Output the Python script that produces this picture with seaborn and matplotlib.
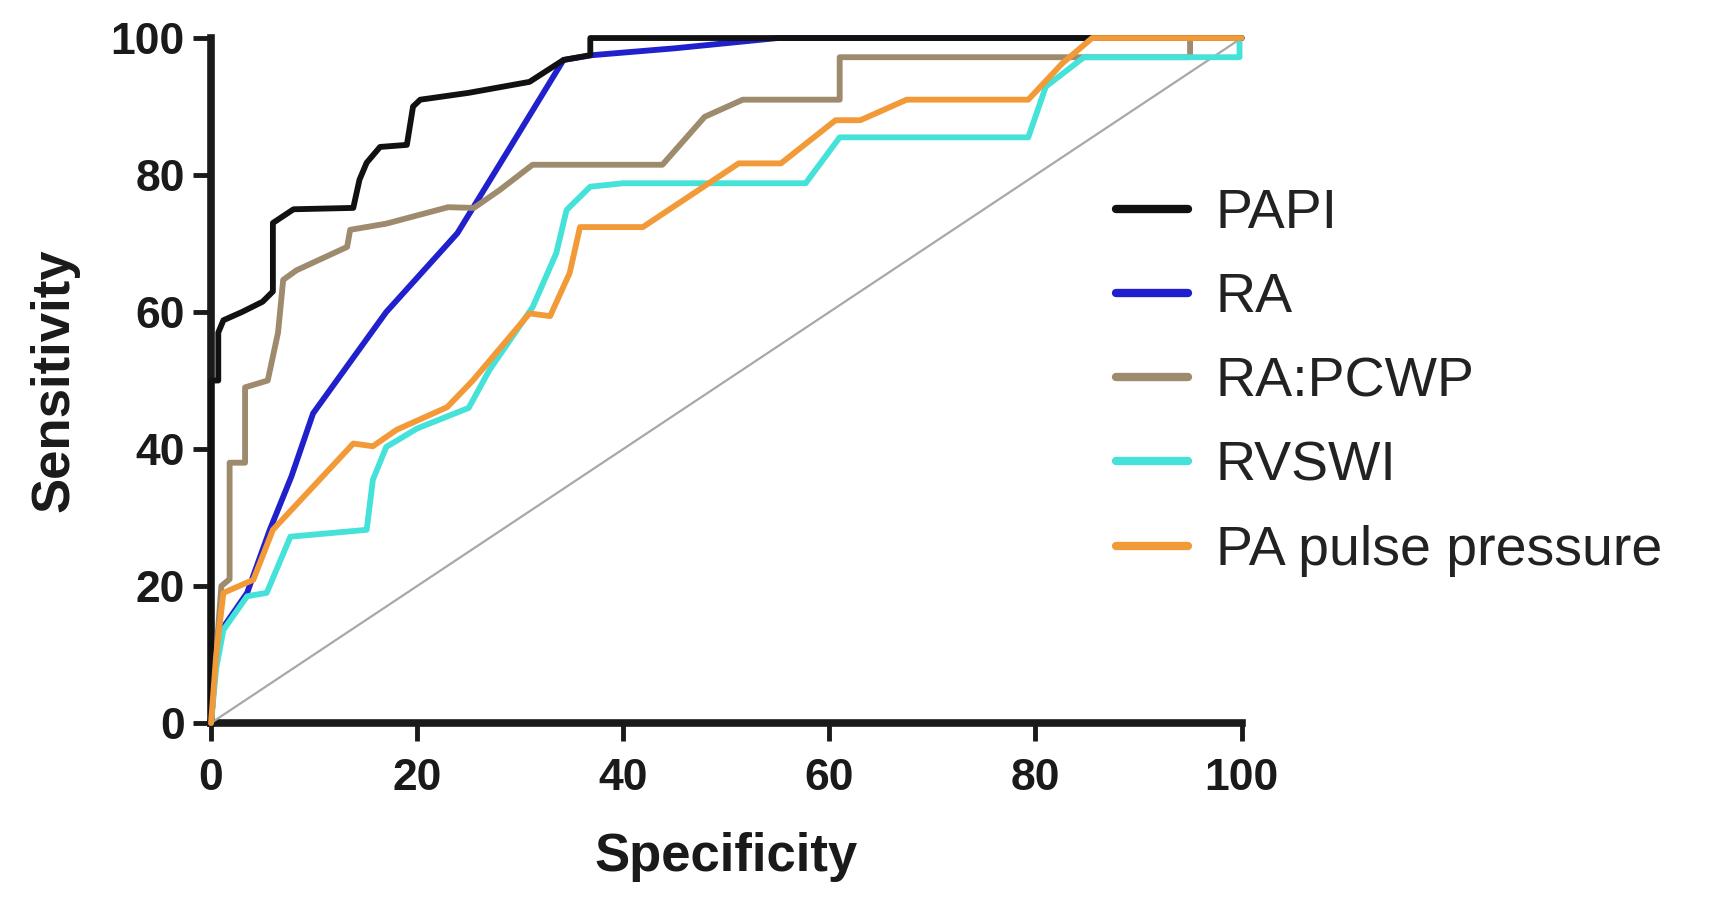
import numpy as np
import pandas as pd
import matplotlib
matplotlib.use("Agg")
import matplotlib.pyplot as plt
import seaborn as sns
from matplotlib.lines import Line2D

# ---- data ----
papi_x = [0, 0, 0.7, 0.7, 1.2, 3, 5, 6, 6, 8, 13.8, 14.4, 15.1, 16.4, 19, 19.6, 20.3, 25, 30.9, 34.2, 36.8, 36.8, 100]
papi_y = [0, 50, 50, 57, 58.8, 60, 61.5, 63, 73, 75, 75.2, 79.3, 81.8, 84.1, 84.4, 90, 91, 92, 93.6, 96.8, 97.5, 100, 100]

ra_x = [0, 0.5, 1.2, 3.5, 5.7, 7.8, 9.9, 12.2, 17, 23.9, 29, 34.2, 37, 45, 55, 100]
ra_y = [0, 10, 14, 19, 28.2, 36, 45.2, 50, 60, 71.5, 84, 96.8, 97.5, 98.5, 100, 100]

rapcwp_x = [0, 0.5, 1.0, 1.8, 1.8, 3.3, 3.3, 5.5, 6.5, 7.0, 8.3, 13.2, 13.5, 17, 23, 25.5, 28, 31.2, 43.8, 47.9, 51.6, 61, 61, 95, 95, 100]
rapcwp_y = [0, 10, 20, 21, 38, 38, 49, 50, 57, 64.7, 66.1, 69.5, 72, 72.9, 75.3, 75.2, 77.8, 81.5, 81.5, 88.5, 91, 91, 97.2, 97.2, 100, 100]

rvswi_x = [0, 0.5, 1.2, 3.5, 5.4, 7.7, 15.1, 15.7, 17, 20, 25, 27, 31.2, 33.5, 34.5, 36.8, 40, 57.7, 61, 79.3, 81, 84.7, 99.8, 99.8, 100]
rvswi_y = [0, 8, 13.6, 18.5, 19, 27.2, 28.2, 35.5, 40.3, 43, 46, 51.5, 60.7, 68.6, 74.9, 78.3, 78.8, 78.8, 85.5, 85.5, 92.9, 97.2, 97.2, 100, 100]

pulse_x = [0, 0.5, 1.2, 4.1, 6, 9.9, 13.8, 15.7, 18, 22.9, 25.4, 30.9, 32.9, 34.8, 35.8, 41.9, 51.2, 55.3, 60.6, 63, 67.5, 79.3, 82.6, 85.5, 100]
pulse_y = [0, 10, 19, 20.9, 28.2, 34.5, 40.8, 40.4, 42.8, 46.1, 50, 59.8, 59.4, 65.7, 72.4, 72.4, 81.7, 81.7, 88, 88, 91, 91, 96.3, 100, 100]

ref_x = [0, 100]
ref_y = [0, 100]

series_names = ["PAPI", "RA", "RA:PCWP", "RVSWI", "PA pulse pressure"]
series_data = [(papi_x, papi_y), (ra_x, ra_y), (rapcwp_x, rapcwp_y), (rvswi_x, rvswi_y), (pulse_x, pulse_y)]
colors = ["#111111", "#2020cc", "#9e8a6c", "#44e2d8", "#f39a38"]
zorders = [6, 3, 4, 5, 7]

frames = []
for name, (xs, ys) in zip(series_names, series_data):
    frames.append(pd.DataFrame({"Specificity": xs, "Sensitivity": ys, "Test": name, "order": range(len(xs))}))
df = pd.concat(frames, ignore_index=True)

sns.set_style("ticks")
plt.rcParams["font.family"] = ["Liberation Sans", "DejaVu Sans"]

fig = plt.figure(figsize=(17.09, 8.97), dpi=100)
ax = fig.add_axes([0.1235, 0.194, 0.603, 0.7636])

# reference diagonal
sns.lineplot(x=ref_x, y=ref_y, ax=ax, color="#a8a8a8", linewidth=1.6, zorder=2, legend=False)

for name, color, z in zip(series_names, colors, zorders):
    sub = df[df["Test"] == name]
    sns.lineplot(data=sub, x="Specificity", y="Sensitivity", sort=False, estimator=None,
                 ax=ax, color=color, linewidth=4.2, zorder=z, legend=False)

for ln in ax.get_lines():
    ln.set_clip_on(False)

ax.set_xlim(0, 100)
ax.set_ylim(0, 100)
ax.set_xticks([0, 20, 40, 60, 80, 100])
ax.set_yticks([0, 20, 40, 60, 80, 100])
sns.despine(ax=ax)
for side in ["left", "bottom"]:
    ax.spines[side].set_linewidth(5.5)
    ax.spines[side].set_color("#1a1a1a")
    ax.spines[side].set_zorder(1)
ax.tick_params(axis="both", length=13, width=3.5, color="#1a1a1a", labelsize=32)
ax.tick_params(axis="x", pad=12)
ax.tick_params(axis="y", pad=6)
for lab in ax.get_xticklabels() + ax.get_yticklabels():
    lab.set_fontweight("bold")
    lab.set_color("#1a1a1a")

ax.set_xlabel("Specificity", fontsize=38, fontweight="bold", color="#1a1a1a", labelpad=24)
ax.set_ylabel("Sensitivity", fontsize=38, fontweight="bold", color="#1a1a1a", labelpad=22)

handles = [Line2D([0], [0], color=c, linewidth=6) for c in colors]
fig.legend(handles, series_names, loc="upper left", bbox_to_anchor=(0.6235, 0.846),
           frameon=False, fontsize=40, labelcolor="#222222", handlelength=1.3,
           handletextpad=0.5, labelspacing=0.58)

fig.savefig("out.png", dpi=100)
